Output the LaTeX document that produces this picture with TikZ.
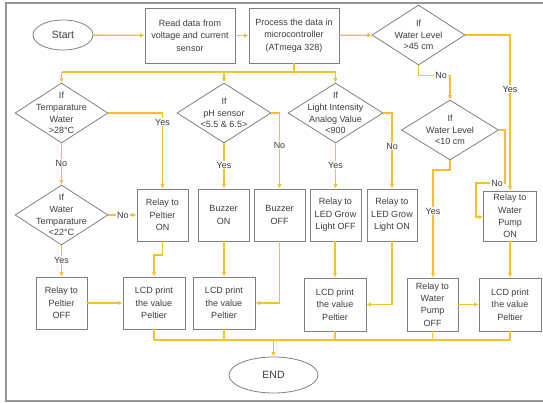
\documentclass[tikz,border=0pt]{standalone}
\usepackage{fontspec}
\setmainfont{Liberation Sans}
\usetikzlibrary{shapes.geometric,arrows.meta,calc}
\definecolor{boxgray}{RGB}{128,128,128}
\definecolor{framegray}{RGB}{150,150,150}
\definecolor{txtgray}{RGB}{60,60,60}
\definecolor{lineyel}{RGB}{247,192,40}
\tikzset{
  box/.style={draw=boxgray, line width=0.8pt, rectangle, inner sep=0pt, align=center,
    text=txtgray, font=\fontsize{9}{12.4}\selectfont},
  dia/.style={draw=boxgray, line width=0.8pt, diamond, inner sep=0pt},
  diatext/.style={align=center, inner sep=0pt, text=txtgray, font=\fontsize{9}{11.6}\selectfont},
  ell/.style={draw=boxgray, line width=0.8pt, ellipse, inner sep=0pt, text=txtgray,
    font=\fontsize{10.5}{12}\selectfont},
  conn/.style={draw=lineyel, line width=1.3pt},
  arr/.style={conn, -{Latex[length=4.5pt,width=4.5pt]}},
  lbl/.style={fill=white, inner sep=1pt, text=txtgray, font=\fontsize{9}{11}\selectfont}
}
\begin{document}
\begin{tikzpicture}[x=1pt,y=-1pt]
\useasboundingbox (0,0) rectangle (543,403);
% frame
\draw[framegray, line width=1.2pt] (550,3) -- (6,3) -- (6,401) -- (550,401);

% top row
\node[ell, minimum width=60pt, minimum height=30pt] (start) at (63,35) {Start};
\node[box, minimum width=90pt, minimum height=55pt] (read) at (190,35.5) {Read data from\\voltage and current\\sensor};
\node[box, minimum width=90pt, minimum height=55pt] (proc) at (294,35.5) {Process the data in\\microcontroller\\(ATmega 328)};
\node[dia, minimum width=93pt, minimum height=60pt] (wl45) at (418.5,35) {};
\node[diatext] (wl45t) at (wl45) {If\\Water Level\\>45 cm};

% decisions
\node[dia, minimum width=93pt, minimum height=60pt] (t28) at (61.5,113) {};
\node[diatext] (t28t) at (t28) {If\\Temparature\\Water\\>28°C};
\node[dia, minimum width=94pt, minimum height=60pt] (ph) at (224,113) {};
\node[diatext] (pht) at (ph) {If\\pH sensor\\<5.5 \& 6.5>};
\node[dia, minimum width=95pt, minimum height=60pt] (light) at (335.5,113) {};
\node[diatext] (lightt) at (light) {If\\Light Intensity\\Analog Value\\<900};
\node[dia, minimum width=97pt, minimum height=60pt] (wl10) at (450,130) {};
\node[diatext] (wl10t) at (wl10) {If\\Water Level\\<10 cm};
\node[dia, minimum width=93pt, minimum height=60pt] (t22) at (61.5,215) {};
\node[diatext] (t22t) at (t22) {If\\Water\\Temparature\\<22°C};

% middle row boxes
\node[box, minimum width=51pt, minimum height=52pt] (rpon) at (162.5,215) {Relay to\\Peltier\\ON};
\node[box, minimum width=51pt, minimum height=52pt] (bzon) at (223.5,215) {Buzzer\\ON};
\node[box, minimum width=51pt, minimum height=52pt] (bzoff) at (279.5,215) {Buzzer\\OFF};
\node[box, minimum width=51pt, minimum height=52pt] (ledoff) at (335.5,215) {Relay to\\LED Grow\\Light OFF};
\node[box, minimum width=50pt, minimum height=52pt] (ledon) at (392,215) {Relay to\\LED Grow\\Light ON};
\node[box, minimum width=53pt, minimum height=50pt] (wpon) at (510,216) {Relay to\\Water\\Pump\\ON};

% bottom row boxes
\node[box, minimum width=51pt, minimum height=52pt] (rpoff) at (61.5,303) {Relay to\\Peltier\\OFF};
\node[box, minimum width=62pt, minimum height=52pt] (lcd1) at (154,303) {LCD print\\the value\\Peltier};
\node[box, minimum width=62pt, minimum height=52pt] (lcd2) at (224,303) {LCD print\\the value\\Peltier};
\node[box, minimum width=62pt, minimum height=53pt] (lcd3) at (335,304.5) {LCD print\\the value\\Peltier};
\node[box, minimum width=51pt, minimum height=53pt] (wpoff) at (432.5,304.5) {Relay to\\Water\\Pump\\OFF};
\node[box, minimum width=62pt, minimum height=53pt] (lcd4) at (510,304.5) {LCD print\\the value\\Peltier};

\node[ell, minimum width=89pt, minimum height=36pt] (end) at (273.5,375) {END};

% coordinates
\coordinate (topbus) at (0,72);
\coordinate (botbus) at (0,340);

% top row connectors
\draw[arr] (start) -- (read);
\draw[arr] (read) -- (proc);
\draw[arr] (proc) -- (wl45);
\draw[arr] (wl45.east) -| (wpon.north);
\node[lbl] (y45) at (510,89) {Yes};
\draw[arr] (wl45.south) -- ++(0,10) -| (wl10.north);
\node[lbl] (n45) at (441,75) {No};
\draw[arr] (wl10.east) -- (505,130) -- (505,183) -- (476,183) -- (476,217) -- (wpon.west |- 0,217);
\node[lbl] (n10) at (497,183) {No};
\draw[arr] (wl10.south) -- (450,170) -- (433,170) -- (wpoff.north -| 433,0);
\node[lbl] (y10) at (433,211) {Yes};

% bus from processing
\draw[conn] (proc.south) -- (proc.south |- topbus);
\draw[conn] (t28.north |- topbus) -- (light.north |- topbus);
\draw[arr] (t28.north |- topbus) -- (t28.north);
\draw[arr] (ph.north |- topbus) -- (ph.north);
\draw[arr] (light.north |- topbus) -- (light.north);

% temperature branch
\draw[arr] (t28.east) -| (rpon.north);
\node[lbl] (y28) at (162.5,122) {Yes};
\draw[arr] (t28.south) -- (t22.north);
\node[lbl] (n28) at (61.5,163) {No};
\draw[arr] (t22.east) -- (rpon.west);
\node[lbl] (n22) at (123,215) {No};
\draw[arr] (t22.south) -- (rpoff.north);
\node[lbl] (y22) at (61.5,260) {Yes};
\draw[arr] (rpoff) -- (lcd1);
\draw[arr] (rpon.south) -- (162.5,255) -- (154,255) -- (lcd1.north);

% pH branch
\draw[arr] (ph.south) -- (bzon.north -| ph.south);
\node[lbl] (yph) at (224,165) {Yes};
\draw[arr] (ph.east) -| (bzoff.north);
\node[lbl] (nph) at (279.5,145) {No};
\draw[arr] (bzon.south -| lcd2.north) -- (lcd2.north);
\draw[arr] (bzoff.south) |- (lcd2.east);

% light branch
\draw[arr] (light.south) -- (ledoff.north);
\node[lbl] (ylt) at (335.5,165) {Yes};
\draw[arr] (light.east) -| (ledon.north);
\node[lbl] (nlt) at (392,146) {No};
\draw[arr] (ledoff.south -| lcd3.north) -- (lcd3.north);
\draw[arr] (ledon.south) |- (lcd3.east);

% water pump branch
\draw[arr] (wpoff) -- (lcd4);
\draw[arr] (wpon.south) -- (lcd4.north);

% bottom bus
\draw[conn] (lcd1.south) -- (lcd1.south |- botbus);
\draw[conn] (lcd2.south) -- (lcd2.south |- botbus);
\draw[conn] (lcd3.south) -- (lcd3.south |- botbus);
\draw[conn] (wpoff.south) -- (wpoff.south |- botbus);
\draw[conn] (lcd4.south) -- (lcd4.south |- botbus);
\draw[conn] (lcd1.south |- botbus) -- (lcd4.south |- botbus);
\draw[arr] (end.north |- botbus) -- (end.north);
\end{tikzpicture}
\end{document}
